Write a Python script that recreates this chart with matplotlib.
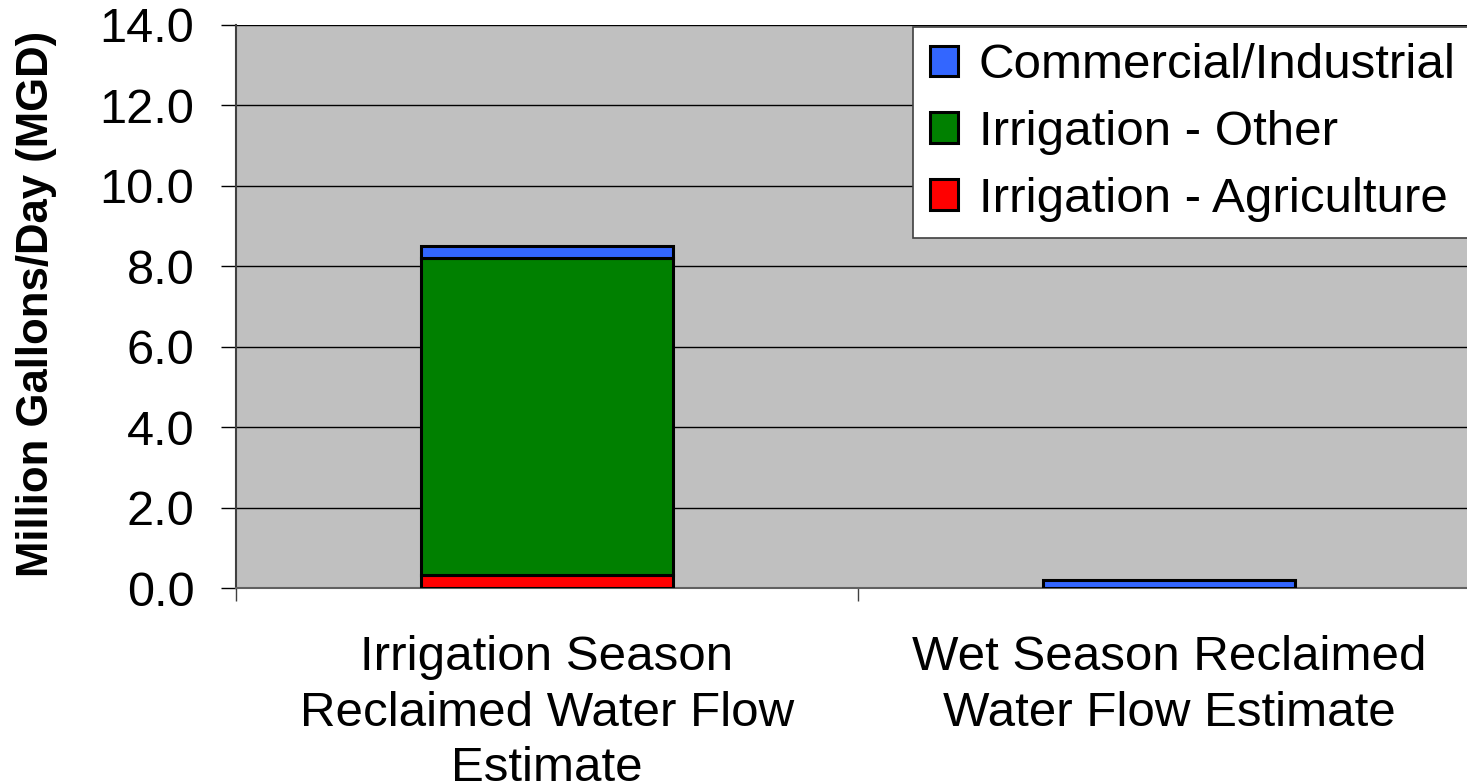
import matplotlib
matplotlib.use("Agg")
import matplotlib.pyplot as plt
from matplotlib.ticker import FixedLocator, NullFormatter, FixedFormatter

# reclaimed water flow by use, MGD
categories = ["Irrigation Season\nReclaimed Water Flow\nEstimate",
              "Wet Season Reclaimed\nWater Flow Estimate"]
agriculture = [0.32, 0.0]
other = [7.89, 0.0]
commercial = [0.30, 0.20]

series_names = ["Irrigation - Agriculture", "Irrigation - Other", "Commercial/Industrial"]
series_colors = ["#FF0000", "#008000", "#3366FF"]
yticks = [0, 2, 4, 6, 8, 10, 12, 14]

plt.rcParams["font.family"] = ["Liberation Sans", "DejaVu Sans"]

fig = plt.figure(figsize=(14.67, 7.83), dpi=100)
ax = fig.add_axes([236 / 1467, 1 - 588 / 783, (1480 - 236) / 1467, (588 - 25) / 783])
ax.set_facecolor("#C0C0C0")

x = list(range(len(categories)))
bottom = [0.0] * len(categories)
handles = []
for name, vals, col in zip(series_names, [agriculture, other, commercial], series_colors):
    b = ax.bar(x, vals, width=0.404, bottom=bottom, color=col, edgecolor="black",
               linewidth=2.2, label=name, zorder=3)
    handles.append(b)
    bottom = [bb + v for bb, v in zip(bottom, vals)]

ax.set_xlim(-0.5, 1.5)
ax.set_ylim(0, 14)
ax.set_yticks(yticks)
ax.set_yticklabels([f"{v:.1f}" for v in yticks], fontsize=35)
ax.yaxis.grid(True, color="black", linewidth=1.0, zorder=1)
ax.set_axisbelow(True)

# category boundaries get the tick marks, labels sit under the bars
ax.xaxis.set_major_locator(FixedLocator([-0.5, 0.5, 1.5]))
ax.xaxis.set_major_formatter(NullFormatter())
ax.xaxis.set_minor_locator(FixedLocator(x))
ax.xaxis.set_minor_formatter(FixedFormatter(categories))
ax.tick_params(axis="x", which="major", length=9, width=1.0, color="#404040")
ax.tick_params(axis="x", which="minor", length=0, pad=34, labelsize=35.5)
for lbl in ax.get_xticklabels(minor=True):
    lbl.set_linespacing(1.3)
ax.tick_params(axis="y", length=11, width=1.0, pad=19)

for side in ["top", "right"]:
    ax.spines[side].set_visible(False)
ax.spines["left"].set_color("#404040")
ax.spines["left"].set_linewidth(1.5)
ax.spines["bottom"].set_color("#606060")
ax.spines["bottom"].set_linewidth(1.5)

fig.text(37 / 1467, 1 - 304 / 783, "Million Gallons/Day (MGD)", rotation=90,
         fontsize=31.5, fontweight="bold", ha="center", va="center")

leg = ax.legend(handles[::-1], series_names[::-1], loc="upper right",
                bbox_to_anchor=(1472 / 1467, 1 - 27 / 783), bbox_transform=fig.transFigure,
                fontsize=35.5, frameon=True, fancybox=False, framealpha=1,
                edgecolor="#404040", handlelength=0.58, handleheight=0.58,
                handletextpad=0.42, labelspacing=0.44, borderpad=0.33, borderaxespad=0)
leg.get_frame().set_linewidth(1.2)

fig.savefig("out.png", dpi=100)
